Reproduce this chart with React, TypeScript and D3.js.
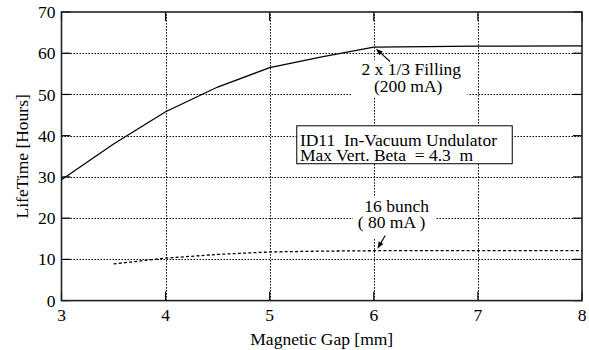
import React from "react";
import * as d3 from "d3";

const gapFull = [3, 3.5, 4, 4.5, 5, 5.5, 6, 7, 8];
const lifeFull = [29.3, 38.0, 45.8, 51.8, 56.5, 59.1, 61.5, 61.7, 61.8];
const gap16 = [3.5, 4, 4.5, 5, 5.5, 6, 7, 8];
const life16 = [8.9, 10.3, 11.2, 11.8, 12.0, 12.1, 12.1, 12.1];
const xTicks = [3, 4, 5, 6, 7, 8];
const yTicks = [0, 10, 20, 30, 40, 50, 60, 70];

const W = 589;
const H = 350;
const M = { left: 61.5, right: 7, top: 12, bottom: 49.4 };
const FONT = "'Liberation Serif', 'Times New Roman', Times, serif";
const FS = 17.5;

export default function App() {
  const xs = d3.scaleLinear().domain([3, 8]).range([M.left, W - M.right]);
  const ys = d3.scaleLinear().domain([0, 70]).range([H - M.bottom, M.top]);
  const line = d3
    .line<[number, number]>()
    .x((d) => xs(d[0]))
    .y((d) => ys(d[1]));
  const fullPts = gapFull.map((g, i) => [g, lifeFull[i]] as [number, number]);
  const b16Pts = gap16.map((g, i) => [g, life16[i]] as [number, number]);
  const left = xs(3), right = xs(8), bottom = ys(0), top = ys(70);
  const tick = 9;
  const snap = (v: number) => Math.round(v) + 0.5;

  const arrow = (fx: number, fy: number, tx: number, ty: number) => {
    const ax = xs(fx), ay = ys(fy), bx = xs(tx), by = ys(ty);
    const ang = Math.atan2(by - ay, bx - ax);
    const L = 7, Wd = 2.6;
    const hx = bx - L * Math.cos(ang), hy = by - L * Math.sin(ang);
    const qx = -Math.sin(ang) * Wd, qy = Math.cos(ang) * Wd;
    return (
      <g>
        <line x1={ax} y1={ay} x2={hx} y2={hy} stroke="#000" strokeWidth={1.1} />
        <path d={`M${bx},${by}L${hx + qx},${hy + qy}L${hx - qx},${hy - qy}Z`} fill="#000" />
      </g>
    );
  };

  const hGrid = yTicks.filter((t) => t > 0 && t < 70);
  const vGrid = xTicks.filter((t) => t > 3 && t < 8);

  return (
    <svg width={W} height={H} style={{ position: "absolute", left: 0, top: 0, background: "#fff" }} fontFamily={FONT}>
      <rect x={0} y={0} width={W} height={H} fill="#fff" />
      {/* grid */}
      {hGrid.map((t) => (
        <line key={"gy" + t} x1={left} x2={right} y1={snap(ys(t))} y2={snap(ys(t))} stroke="#000" strokeWidth={1} strokeDasharray="1.5,1.5" />
      ))}
      {vGrid.map((t) => (
        <line key={"gx" + t} x1={snap(xs(t))} x2={snap(xs(t))} y1={bottom} y2={top} stroke="#000" strokeWidth={1} strokeDasharray="1.5,1.5" />
      ))}
      {/* white backgrounds behind labels */}
      <rect x={xs(5.78)} y={ys(58.4)} width={xs(6.9) - xs(5.78)} height={ys(49.2) - ys(58.4)} fill="#fff" />
      <rect x={xs(5.8)} y={ys(25.1)} width={xs(6.6) - xs(5.8)} height={ys(15) - ys(25.1)} fill="#fff" />
      {/* ticks */}
      {yTicks.map((t) => (
        <g key={"ty" + t}>
          <line x1={left} x2={left + tick} y1={ys(t)} y2={ys(t)} stroke="#000" strokeWidth={1.2} />
          <line x1={right} x2={right - tick} y1={ys(t)} y2={ys(t)} stroke="#000" strokeWidth={1.2} />
          <text x={left - 6} y={ys(t)} dy="0.35em" textAnchor="end" fontSize={FS} fill="#000">{t}</text>
        </g>
      ))}
      {xTicks.map((t) => (
        <g key={"tx" + t}>
          <line x1={xs(t)} x2={xs(t)} y1={bottom} y2={bottom - tick} stroke="#000" strokeWidth={1.2} />
          <line x1={xs(t)} x2={xs(t)} y1={top} y2={top + tick} stroke="#000" strokeWidth={1.2} />
          <text x={xs(t)} y={bottom + 20} textAnchor="middle" fontSize={FS} fill="#000">{t}</text>
        </g>
      ))}
      {/* frame */}
      <rect x={left} y={top} width={right - left} height={bottom - top} fill="none" stroke="#222" strokeWidth={1.6} />
      {/* curves */}
      <path d={line(fullPts) || ""} fill="none" stroke="#000" strokeWidth={1.3} />
      <path d={line(b16Pts) || ""} fill="none" stroke="#000" strokeWidth={1.3} strokeDasharray="3,2.2" />
      {/* annotation box */}
      <rect x={xs(5.26)} y={ys(42.4)} width={xs(7.33) - xs(5.26)} height={ys(33.2) - ys(42.4)} fill="#fff" stroke="#000" strokeWidth={1} />
      <text x={xs(5.29)} y={ys(37.6)} fontSize={FS} fill="#000" xmlSpace="preserve" style={{ whiteSpace: "pre" }}>ID11  In-Vacuum Undulator</text>
      <text x={xs(5.29)} y={ys(33.8)} fontSize={FS} fill="#000" xmlSpace="preserve" style={{ whiteSpace: "pre" }}>Max Vert. Beta  = 4.3  m</text>
      {/* curve labels */}
      <text x={xs(6.36)} y={ys(54.6)} textAnchor="middle" fontSize={FS} fill="#000">2 x 1/3 Filling</text>
      <text x={xs(6.33)} y={ys(50.6)} textAnchor="middle" fontSize={FS} fill="#000">(200 mA)</text>
      <text x={xs(6.22)} y={ys(21.5)} textAnchor="middle" fontSize={FS} fill="#000">16 bunch</text>
      <text x={xs(6.17)} y={ys(17.6)} textAnchor="middle" fontSize={FS} fill="#000" xmlSpace="preserve" style={{ whiteSpace: "pre" }}>( 80 mA )</text>
      {arrow(6.155, 58.0, 6.02, 61.1)}
      {arrow(6.11, 15.8, 6.035, 12.6)}
      {/* axis labels */}
      <text x={(left + right) / 2} y={H - 5} textAnchor="middle" fontSize={FS} fill="#000">Magnetic Gap [mm]</text>
      <text transform={`translate(28,${(bottom + top) / 2}) rotate(-90)`} textAnchor="middle" fontSize={FS} fill="#000">LifeTime [Hours]</text>
    </svg>
  );
}
